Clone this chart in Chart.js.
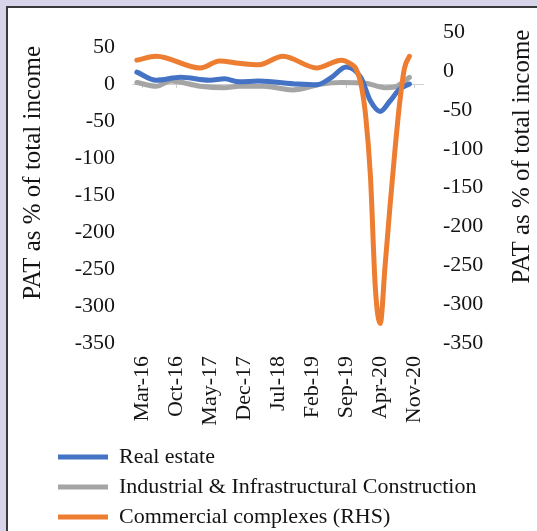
<!DOCTYPE html>
<html>
<head>
<meta charset="utf-8">
<script src="https://cdn.jsdelivr.net/npm/chart.js@4.4.1/dist/chart.umd.min.js"></script>
<style>
    html, body { margin: 0; padding: 0; width: 537px; height: 531px; overflow: hidden; background: #d8d4ea; }
    .panel { position: absolute; left: 6px; top: 6px; width: 560px; height: 560px; background: #fff; border: 2px solid #3a3a3a; box-sizing: border-box; }
    #chart { position: absolute; left: 0; top: 0; }
</style>
</head>
<body>
<div class="panel"></div>
<canvas id="chart" width="537" height="538"></canvas>
<script>
// ===== Data =====

// Monthly category axis, Jan-16 .. Jan-21; labels every 7 months from Mar-16
const monthNames = ['Jan', 'Feb', 'Mar', 'Apr', 'May', 'Jun', 'Jul', 'Aug', 'Sep', 'Oct', 'Nov', 'Dec'];
const months = [];
for (let i = 0; i < 61; i++) {
    months.push(`${monthNames[i % 12]}-${16 + Math.floor(i / 12)}`);
}
const firstLabel = 2; // Mar-16
const labelEvery = 7;

// Tick values, same on both axes
const yTicks = [50, 0, -50, -100, -150, -200, -250, -300, -350];

// PAT as % of total income, left axis
const realEstate = [
    ['Feb-16', 16], ['Jun-16', 5], ['Nov-16', 9], ['May-17', 5], ['Aug-17', 7],
    ['Nov-17', 3], ['Mar-18', 4], ['Nov-18', 0], ['Mar-19', -1], ['Jun-19', 9],
    ['Sep-19', 23], ['Dec-19', 9], ['Feb-20', -23], ['Apr-20', -37], ['Jun-20', -23],
    ['Aug-20', -7], ['Oct-20', 0]
];

const industrialConstruction = [
    ['Feb-16', 2], ['Jun-16', -3], ['Sep-16', 4], ['Mar-17', -3], ['Aug-17', -5],
    ['Nov-17', -3], ['Apr-18', -3], ['Oct-18', -8], ['Apr-19', 0], ['Aug-19', 2],
    ['Jan-20', 1], ['May-20', -5], ['Jul-20', -4], ['Oct-20', 9]
];

// Right axis (RHS)
const commercialComplexes = [
    ['Feb-16', 14], ['Jun-16', 19], ['Mar-17', 4], ['Jul-17', 13], ['Nov-17', 10],
    ['Mar-18', 8], ['Aug-18', 19], ['Mar-19', 4], ['Aug-19', 14], ['Oct-19', 9],
    ['Nov-19', 3], ['Dec-19', -15], ['Jan-20', -57], ['Feb-20', -136], ['Mar-20', -279],
    ['Apr-20', -325], ['May-20', -251], ['Jun-20', -175], ['Jul-20', -104], ['Aug-20', -41],
    ['Sep-20', 4], ['Oct-20', 19]
];

const axisTitle = 'PAT as % of total income';

// ===== Styling =====
const FONT = "'Liberation Serif', 'Times New Roman', serif";
const TEXT = '#141414';
Chart.defaults.font.family = FONT;
Chart.defaults.color = TEXT;

const toPoints = pairs => pairs.map(([x, y]) => ({ x, y }));
const isLabelled = i => i >= firstLabel && (i - firstLabel) % labelEvery === 0;

/**
 * Zero line tick marks, as in the spreadsheet original
 */
const zeroTicks = {
    id: 'zeroTicks',
    beforeDatasetsDraw(chart) {
        const { ctx, scales } = chart;
        const y0 = scales.y.getPixelForValue(0);
        ctx.save();
        ctx.strokeStyle = '#cfcfcf';
        ctx.lineWidth = 1;
        months.forEach((m, i) => {
            if (!isLabelled(i)) return;
            const x = Math.round(scales.x.getPixelForValue(i)) + 0.5;
            ctx.beginPath();
            ctx.moveTo(x, y0);
            ctx.lineTo(x, y0 + 4);
            ctx.stroke();
        });
        ctx.restore();
    }
};

/**
 * Both axis titles read bottom-to-top
 */
const axisTitles = {
    id: 'axisTitles',
    afterDraw(chart) {
        const { ctx, scales } = chart;
        const draw = (x, y) => {
            ctx.save();
            ctx.translate(x, y);
            ctx.rotate(-Math.PI / 2);
            ctx.font = `25px ${FONT}`;
            ctx.fillStyle = TEXT;
            ctx.textAlign = 'center';
            ctx.textBaseline = 'middle';
            ctx.fillText(axisTitle, 0, 0);
            ctx.restore();
        };
        draw(scales.y.left + 33, scales.y.getPixelForValue(-120));
        draw(scales.y1.right - 15, scales.y1.getPixelForValue(-110));
    }
};

// Legend sits indented under the plot, rows left aligned
const legendShift = {
    id: 'legendShift',
    afterLayout(chart) {
        chart.legend.left += 50;
        chart.legend.right += 50;
    }
};

new Chart(document.getElementById('chart'), {
    type: 'line',
    data: {
        labels: months,
        datasets: [{
            label: 'Real estate',
            data: toPoints(realEstate),
            yAxisID: 'y',
            borderColor: '#4472c4',
            backgroundColor: '#4472c4',
            borderWidth: 5,
            order: 1
        }, {
            label: 'Industrial & Infrastructural Construction',
            data: toPoints(industrialConstruction),
            yAxisID: 'y',
            borderColor: '#a5a5a5',
            backgroundColor: '#a5a5a5',
            borderWidth: 5,
            order: 2
        }, {
            label: 'Commercial complexes (RHS)',
            data: toPoints(commercialComplexes),
            yAxisID: 'y1',
            borderColor: '#ed7d31',
            backgroundColor: '#ed7d31',
            borderWidth: 5,
            order: 0
        }]
    },
    options: {
        responsive: false,
        animation: false,
        layout: { padding: { top: 28, left: 0, right: 0, bottom: 0 } },
        elements: {
            line: { cubicInterpolationMode: 'monotone', borderCapStyle: 'round', borderJoinStyle: 'round' },
            point: { radius: 0, hoverRadius: 0 }
        },
        plugins: {
            tooltip: { enabled: false },
            legend: {
                display: true,
                position: 'bottom',
                align: 'start',
                labels: {
                    usePointStyle: true,
                    pointStyle: 'line',
                    pointStyleWidth: 50,
                    padding: 8,
                    color: TEXT,
                    font: { size: 22, family: FONT },
                    sort: (a, b) => a.datasetIndex - b.datasetIndex
                }
            }
        },
        scales: {
            x: {
                type: 'category',
                offset: false,
                grid: { display: false },
                border: { display: false },
                ticks: {
                    autoSkip: false,
                    minRotation: 90,
                    maxRotation: 90,
                    padding: 5,
                    color: TEXT,
                    font: { size: 22 },
                    callback: (v, i) => (isLabelled(i) ? months[i] : null)
                },
                afterFit: s => { s.height = 95; }
            },
            y: {
                position: 'left',
                min: -350,
                max: 70,
                afterBuildTicks: s => { s.ticks = yTicks.map(value => ({ value })); },
                grid: {
                    drawTicks: false,
                    color: c => (c.tick && c.tick.value === 0 ? '#cfcfcf' : 'rgba(0,0,0,0)')
                },
                border: { display: false },
                ticks: { padding: 17, color: TEXT, font: { size: 22 } },
                afterFit: s => { s.width = 132; }
            },
            y1: {
                position: 'right',
                min: -350,
                max: 50,
                afterBuildTicks: s => { s.ticks = yTicks.map(value => ({ value })); },
                grid: { display: false, drawTicks: false },
                border: { display: false },
                ticks: { padding: 19, color: TEXT, font: { size: 22 } },
                afterFit: s => { s.width = 113; }
            }
        }
    },
    plugins: [zeroTicks, axisTitles, legendShift]
});
</script>
</body>
</html>
